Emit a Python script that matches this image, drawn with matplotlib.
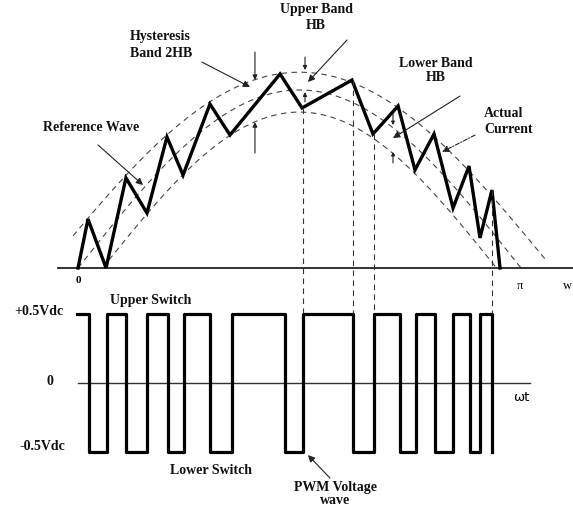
import numpy as np
import matplotlib
matplotlib.use("Agg")
import matplotlib.pyplot as plt

# ---------------- data (x in rad of wt, current in p.u. of reference peak) -------------
# actual current zigzag vertices
cur_x = [0.0, 0.071, 0.199, 0.340, 0.489, 0.631, 0.745, 0.936, 1.078, 1.433, 1.589,
         1.943, 2.092, 2.270, 2.390, 2.525, 2.660, 2.773, 2.851, 2.936, 2.993]
cur_y = [0.0, 0.275, 0.0, 0.506, 0.309, 0.736, 0.522, 0.921, 0.747, 1.090, 0.899,
         1.056, 0.753, 0.910, 0.551, 0.753, 0.337, 0.573, 0.169, 0.438, 0.0]

# band curves: (amplitude, half-width in rad, x-start, x-end)
ref_amp, ref_hw, ref_x0, ref_x1 = 1.0, np.pi / 2, 0.0, np.pi
up_amp, up_hw, up_x0, up_x1 = 1.10, 1.794, -0.035, 3.31
lo_amp, lo_hw, lo_x0, lo_x1 = 0.876, 1.397, 0.22, 2.96

# PWM voltage wave: start, switching instants, levels (units of Vdc)
pwm_start = -0.007
pwm_switch = [0.078, 0.206, 0.340, 0.489, 0.638, 0.752, 0.936, 1.092, 1.468, 1.596,
              1.950, 2.099, 2.284, 2.397, 2.532, 2.660, 2.780, 2.851, 2.936]
pwm_levels = [0.5 if i % 2 == 0 else -0.5 for i in range(len(pwm_switch) + 1)]

# switching instants projected down with dashed lines (index into pwm_switch / cur)
proj_idx = [9, 10, 11, 18]

# ---------------- figure ----------------
W, H = 573, 509
fig = plt.figure(figsize=(W / 100, H / 100), dpi=100)
ax = fig.add_axes([0, 0, 1, 1])
ax.set_xlim(-78 / 141, (W - 78) / 141)
ax.set_ylim((268 - H) / 178, 268 / 178)
ax.axis("off")

PWM_ZERO, PWM_SCALE = -0.646, 0.77
dash = (0, (5, 4))
bold = dict(family="Liberation Serif", fontweight="bold", fontsize=10, color="#111")


def band(amp, hw, x0, x1):
    x = np.linspace(x0, x1, 300)
    return x, amp * np.cos((x - np.pi / 2) * np.pi / (2 * hw))


for amp, hw, x0, x1 in [(ref_amp, ref_hw, ref_x0, ref_x1),
                        (up_amp, up_hw, up_x0, up_x1),
                        (lo_amp, lo_hw, lo_x0, lo_x1)]:
    bx, by = band(amp, hw, x0, x1)
    ax.plot(bx, by, color="#444", lw=0.8, linestyle=dash)

# baseline
ax.plot([-0.142, 3.511], [0, 0], color="#222", lw=1.3)
# actual current
ax.plot(cur_x, cur_y, color="black", lw=2.4, solid_joinstyle="miter")

# PWM
pwm_x = [pwm_start] + pwm_switch
pwm_y = [PWM_ZERO + v * PWM_SCALE for v in pwm_levels]
ax.plot([0, 3.206], [PWM_ZERO, PWM_ZERO], color="#333", lw=1.0)
ax.step(pwm_x, pwm_y, where="post", color="black", lw=2.3)

# dashed projections
top_lvl = PWM_ZERO + 0.5 * PWM_SCALE
for i in proj_idx:
    ax.plot([pwm_switch[i], pwm_switch[i]], [cur_y[i + 1], top_lvl],
            color="#333", lw=0.8, linestyle=dash)


def arr(x0, y0, x1, y1, ls="-", ms=10):
    ax.annotate("", xy=(x1, y1), xytext=(x0, y0),
                arrowprops=dict(arrowstyle="-|>", lw=0.8, color="#222",
                                linestyle=ls, mutation_scale=ms, shrinkA=0, shrinkB=0))


# HB markers (small arrows)
arr(1.255, 1.213, 1.255, 1.056, ms=7)
arr(1.255, 0.646, 1.255, 0.820, ms=7)
arr(1.610, 1.185, 1.610, 1.112, ms=6)
arr(1.610, 0.933, 1.610, 0.989, ms=6)
arr(2.234, 0.871, 2.234, 0.803, ms=5)
arr(2.234, 0.590, 2.234, 0.652, ms=5)

# label arrows
arr(0.879, 1.157, 1.220, 1.017)
arr(0.142, 0.691, 0.461, 0.466)
arr(1.908, 1.281, 1.631, 1.045)
arr(2.709, 0.966, 2.234, 0.730)
arr(2.816, 0.747, 2.582, 0.652, ls=(0, (4, 1.5, 1, 1.5)))
arr(1.787, -1.180, 1.631, -1.051)

# texts
ls2 = 1.35
ax.text(0.369, 1.335, "Hysteresis\nBand 2HB", ha="left", va="top", linespacing=ls2, **bold)
ax.text(1.688, 1.490, "Upper Band\nHB", ha="center", va="top", linespacing=ls2, **bold)
ax.text(2.539, 1.185, "Lower Band\nHB", ha="center", va="top", linespacing=1.1, **bold)
ax.text(2.879, 0.905, "Actual\nCurrent", ha="left", va="top", linespacing=ls2, **bold)
ax.text(-0.248, 0.787, "Reference Wave", ha="left", va="center", **bold)
ax.text(-0.106, -0.247, "+0.5Vdc", ha="right", va="center", **bold)
ax.text(-0.199, -0.635, "0", ha="center", va="center", **bold)
ax.text(-0.092, -1.0, "-0.5Vdc", ha="right", va="center", **bold)
ax.text(0.227, -0.180, "Upper Switch", ha="left", va="center", **bold)
ax.text(0.652, -1.135, "Lower Switch", ha="left", va="center", **bold)
ax.text(1.823, -1.195, "PWM Voltage\nwave", ha="center", va="top", linespacing=1.05, **bold)
ax.text(0.0, -0.073, "0", ha="center", va="center", family="Liberation Serif",
        fontweight="bold", fontsize=8)
ax.text(3.135, -0.100, "π", ha="center", va="center", family="Liberation Serif", fontsize=9)
ax.text(3.475, -0.10, "w", ha="center", va="center", family="Liberation Serif", fontsize=9)
ax.text(3.085, -0.725, "ωt", ha="left", va="center", family="DejaVu Sans", fontsize=9.5)

fig.savefig("out.png", dpi=100)
